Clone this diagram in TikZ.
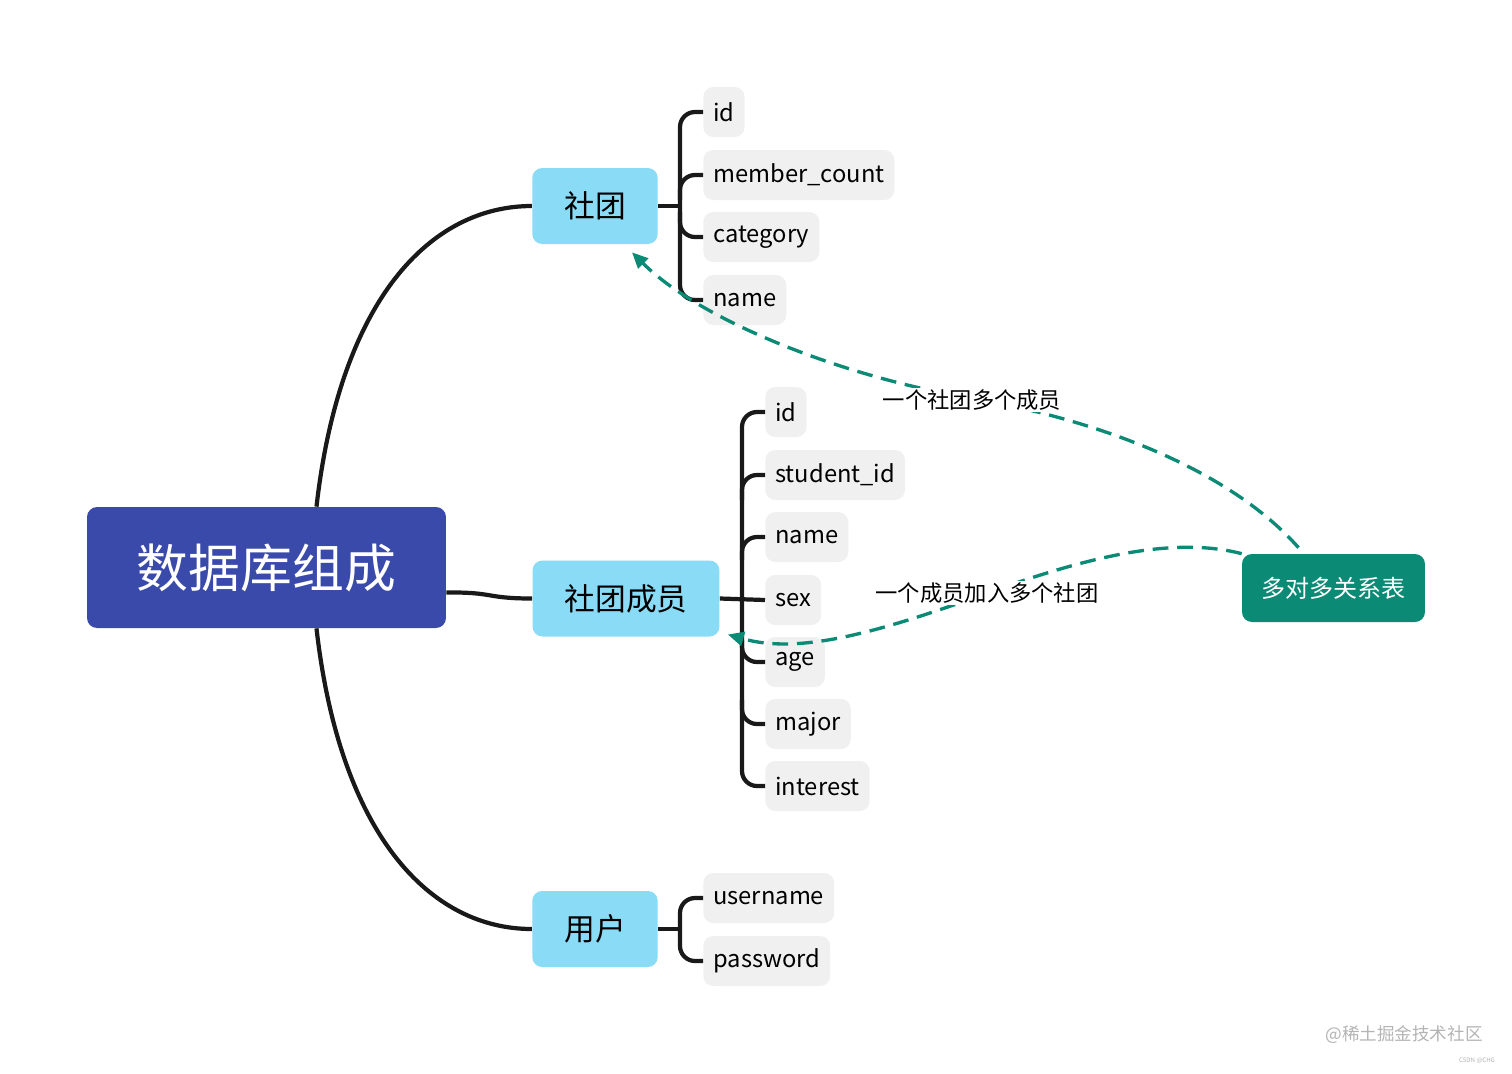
\documentclass[tikz,border=0pt]{standalone}
\usepackage{fontspec}
\setmainfont{Noto Sans CJK SC}
\usetikzlibrary{arrows.meta}
\definecolor{rootblue}{HTML}{3A4AAA}
\definecolor{skyblue}{HTML}{8ADBF6}
\definecolor{leafgray}{HTML}{F0F0F0}
\definecolor{tealdark}{HTML}{0B8A75}
\definecolor{markgray}{HTML}{B4B4B4}
\tikzset{
	rootbox/.style={fill=rootblue, text=white, rounded corners=0.2cm, minimum width=7.18cm, minimum height=2.42cm, font=\fontsize{29.5}{32}\selectfont},
	topic/.style={fill=skyblue, rounded corners=0.2cm, minimum height=1.52cm, inner xsep=0.64cm, font=\fontsize{17.5}{20}\selectfont},
	leaf/.style={fill=leafgray, rounded corners=0.2cm, minimum height=1cm, inner xsep=0.2cm, anchor=west, font=\fontsize{13.5}{16}\selectfont},
	relbox/.style={fill=tealdark, text=white, rounded corners=0.2cm, minimum width=3.66cm, minimum height=1.36cm, font=\fontsize{13.7}{16}\selectfont},
	branch/.style={line width=2.4pt, black!90},
	rel/.style={line width=1.9pt, tealdark, dash pattern=on 9pt off 5pt, -{Triangle[length=0.32cm, width=0.28cm]}},
	note/.style={fill=white, inner sep=1pt, font=\fontsize{12.7}{15}\selectfont}
}
\begin{document}
\begin{tikzpicture}[x=0.02cm, y=-0.02cm]
		\useasboundingbox[fill=white] (0,0) rectangle (1512,1073);
		\node[rootbox] (root) at (266.5,567.5) {数据库组成};
		\node[topic] (st) at (595,206) {社团};
		\node[topic] (sm) at (626,598.5) {社团成员};
		\node[topic] (yh) at (595,929) {用户};
		\node[relbox] (gr) at (1333.5,588) {多对多关系表};
		\draw[branch] ([xshift=1cm]root.north) .. controls (340,300) and (430,206) .. (st.west);
		\draw[branch] ([yshift=-0.5cm]root.east) .. controls (495,592) and (485,598.5) .. (sm.west);
		\draw[branch] ([xshift=1cm]root.south) .. controls (340,835) and (430,929) .. (yh.west);
		\node[leaf] (a1) at (703,112) {id};
		\node[leaf] (a2) at (703,175) {member\_count};
		\node[leaf] (a3) at (703,237) {category};
		\node[leaf] (a4) at (703,300) {name};
		\draw[branch] (st.east) -- (680,206);
		\draw[branch, rounded corners=0.3cm] (a1.west) -| (680,206) |- (a4.west);
		\draw[branch, rounded corners=0.3cm] (680,200) |- (a2.west);
		\draw[branch, rounded corners=0.3cm] (680,212) |- (a3.west);
		\node[leaf] (b1) at (765,412) {id};
		\node[leaf] (b2) at (765,475) {student\_id};
		\node[leaf] (b3) at (765,537) {name};
		\node[leaf] (b4) at (765,600) {sex};
		\node[leaf] (b5) at (765,662) {age};
		\node[leaf] (b6) at (765,724) {major};
		\node[leaf] (b7) at (765,786) {interest};
		\draw[branch] (sm.east) -- (b4.west);
		\draw[branch, rounded corners=0.3cm] (b1.west) -| (742,598) |- (b7.west);
		\draw[branch, rounded corners=0.3cm] (742,500) |- (b2.west);
		\draw[branch, rounded corners=0.3cm] (742,560) |- (b3.west);
		\draw[branch, rounded corners=0.3cm] (742,640) |- (b5.west);
		\draw[branch, rounded corners=0.3cm] (742,700) |- (b6.west);
		\node[leaf] (c1) at (703,898) {username};
		\node[leaf] (c2) at (703,961) {password};
		\draw[branch] (yh.east) -- (680,929);
		\draw[branch, rounded corners=0.3cm] (c1.west) -| (680,929) |- (c2.west);
		\draw[rel] ([xshift=-0.7cm, yshift=0.12cm]gr.north) .. controls (1230,470) and (1100,420) .. (970,398) .. controls (840,376) and (700,320) .. ([xshift=0.74cm, yshift=-0.16cm]st.south);
		\draw[rel] (gr.north west) .. controls (1170,535) and (1080,560) .. (990,592) .. controls (880,632) and (800,655) .. ([xshift=0.16cm, yshift=-0.72cm]sm.east);
		\node[note] (n1) at (972,400) {一个社团多个成员};
		\node[note] (n2) at (987,593) {一个成员加入多个社团};
		\node[text=markgray, font=\fontsize{10}{12}\selectfont] (wm) at (1404,1035) {@稀土掘金技术社区};
		\node[text=markgray, font=\fontsize{3.5}{4}\selectfont] (cs) at (1477,1061) {CSDN @CHG};
	\end{tikzpicture}
\end{document}
